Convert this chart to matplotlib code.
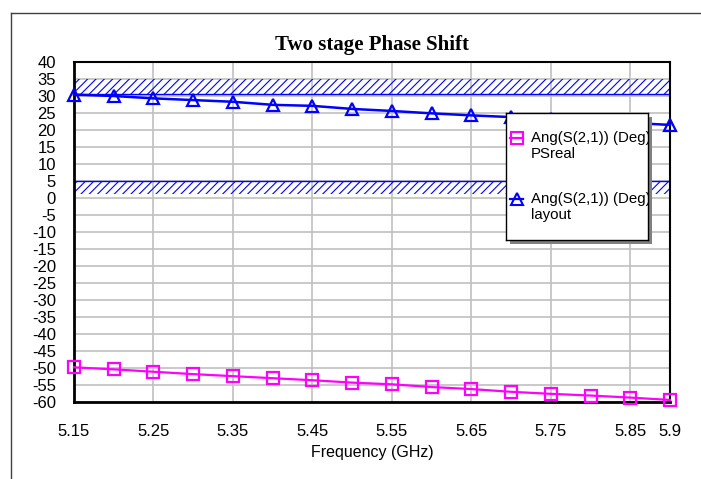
import matplotlib
matplotlib.use("Agg")
import matplotlib.pyplot as plt
from matplotlib.patches import Rectangle
from matplotlib.lines import Line2D
import numpy as np

freq = [5.15, 5.20, 5.25, 5.30, 5.35, 5.40, 5.45, 5.50, 5.55, 5.60, 5.65, 5.70, 5.75, 5.80, 5.85, 5.90]
psreal = [-49.8, -50.4, -51.1, -51.8, -52.4, -53.0, -53.6, -54.3, -54.8, -55.6, -56.2, -57.0, -57.6, -58.1, -58.7, -59.4]
layout = [30.4, 30.0, 29.3, 28.8, 28.3, 27.4, 27.1, 26.2, 25.6, 24.9, 24.3, 23.8, 23.2, 22.6, 22.1, 21.5]
series_labels = ["Ang(S(2,1)) (Deg)\nPSreal", "Ang(S(2,1)) (Deg)\nlayout"]
xticks = [5.15, 5.25, 5.35, 5.45, 5.55, 5.65, 5.75, 5.85, 5.9]
xtick_labels = ["5.15", "5.25", "5.35", "5.45", "5.55", "5.65", "5.75", "5.85", "5.9"]
yticks = list(range(-60, 41, 5))
bands = [(30.7, 35.0), (1.3, 5.0)]
title = "Two stage Phase Shift"
xlabel = "Frequency (GHz)"

W, H = 701, 479
fig = plt.figure(figsize=(W / 100, H / 100), dpi=100)
fig.patch.set_facecolor("white")

# outer frame
fig.add_artist(Line2D([11 / W, 11 / W], [0, 1 - 13 / H], transform=fig.transFigure, color="#404040", lw=1))
fig.add_artist(Line2D([11 / W, 1], [1 - 13 / H, 1 - 13 / H], transform=fig.transFigure, color="#404040", lw=1))

L, T, R, B = 74, 62, 670, 402
ax = fig.add_axes([L / W, 1 - B / H, (R - L) / W, (B - T) / H])
ax.set_xlim(5.15, 5.9)
ax.set_ylim(-60, 40)

plt.rcParams["hatch.linewidth"] = 0.8
for lo, hi in bands:
    ax.fill_between([5.15, 5.9], lo, hi, facecolor="none", edgecolor="#0000ff", hatch="////", linewidth=0, zorder=1)
# band edges
ax.axhline(bands[0][0], color="#0000ff", lw=1, zorder=1.5)
ax.axhline(bands[1][1], color="#0000ff", lw=1, zorder=1.5)

ax.set_xticks(xticks)
ax.set_xticklabels(xtick_labels, family="Liberation Sans", fontsize=12)
ax.set_yticks(yticks)
ax.set_yticklabels([str(v) for v in yticks], family="Liberation Sans", fontsize=12)
ax.tick_params(length=0)
ax.tick_params(axis="x", pad=16)
ax.tick_params(axis="y", pad=13)
ax.grid(True, color="#c0c0c0", lw=1.2, zorder=0)
ax.set_axisbelow(True)

ax.plot(freq, psreal, color="#ff00ff", lw=1.6, marker="s", ms=8, mfc="none", mec="#ff00ff", mew=1.6, zorder=3, clip_on=False)
ax.plot(freq, layout, color="#0000ff", lw=1.8, marker="^", ms=9, mfc="none", mec="#0000ff", mew=1.6, zorder=3, clip_on=False)

for s in ax.spines.values():
    s.set_color("black")
    s.set_linewidth(1.5)
ax.spines["left"].set_linewidth(2)
ax.spines["bottom"].set_linewidth(2)

fig.text((L + R) / 2 / W, 1 - 45 / H, title, ha="center", va="center", family="Liberation Serif", fontweight="bold", fontsize=15)
fig.text((L + R) / 2 / W, 1 - 453 / H, xlabel, ha="center", va="center", family="Liberation Sans", fontsize=11.5)

# legend box with shadow
lx0, ly0, lx1, ly1 = 506, 113, 648, 240
shadow = Rectangle(((lx0 + 4) / W, 1 - (ly1 + 4) / H), (lx1 - lx0) / W, (ly1 - ly0) / H,
                   transform=fig.transFigure, facecolor="#808080", edgecolor="none", zorder=5)
fig.add_artist(shadow)
lax = fig.add_axes([lx0 / W, 1 - ly1 / H, (lx1 - lx0) / W, (ly1 - ly0) / H], zorder=6)
lax.set_xlim(lx0, lx1)
lax.set_ylim(ly1, ly0)
lax.set_xticks([])
lax.set_yticks([])
for s in lax.spines.values():
    s.set_color("black")
    s.set_linewidth(1)
styles = [dict(color="#ff00ff", marker="s", ms=8), dict(color="#0000ff", marker="^", ms=8)]
ys = [138, 199]
for lab, st, y in zip(series_labels, styles, ys):
    lax.plot([510, 523], [y, y], color=st["color"], lw=1.6, clip_on=False)
    lax.plot([516.5], [y], marker=st["marker"], ms=st["ms"], mfc="none", mec=st["color"], mew=1.5, ls="none")
    lines = lab.split("\n")
    lax.text(531, y, lines[0], va="center", ha="left", family="Liberation Sans", fontsize=10.8, clip_on=True)
    lax.text(531, y + 16, lines[1], va="center", ha="left", family="Liberation Sans", fontsize=10.8, clip_on=True)

fig.savefig("out.png", dpi=100)
